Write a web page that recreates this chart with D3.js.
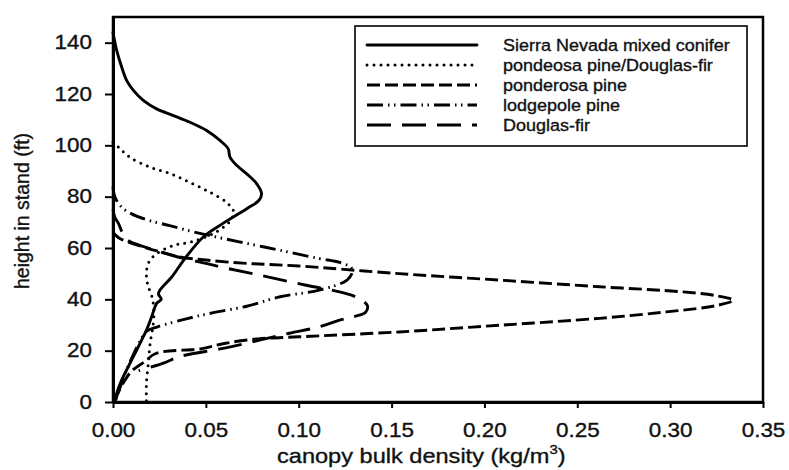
<!DOCTYPE html>
<html>
<head>
<meta charset="utf-8">
<script src="https://cdn.jsdelivr.net/npm/d3@7"></script>
<style>
  html, body { margin: 0; padding: 0; background: #fff; }
  svg { display: block; }
  text { font-family: "Liberation Sans", Arial, sans-serif; fill: #111; stroke: #111; stroke-width: 0.35px; }
</style>
</head>
<body>
<svg id="chart" width="789" height="470"></svg>
<script>
// ---- data: [canopy bulk density (kg/m3), height in stand (ft)] ----
const sierraNevada = [[0.001,0],[0.002,3.4],[0.0047,8.6],[0.0082,13.7],[0.0118,18.9],[0.0154,24.1],[0.018,28],[0.0208,33.2],[0.0235,38.4],[0.026,40],[0.0245,42],[0.0253,43.6],[0.0316,48.7],[0.0387,55.9],[0.0486,64.3],[0.059,69.5],[0.072,75.3],[0.0785,78.5],[0.080,81.2],[0.0773,85.1],[0.072,88.9],[0.0666,92.2],[0.063,95.4],[0.062,98.7],[0.0576,101.9],[0.0504,105.8],[0.0414,109],[0.0325,111.6],[0.0235,114.2],[0.0163,117.5],[0.011,121.4],[0.0074,125.2],[0.0047,130.4],[0.002,137],[0,144]];
const pondeosaDouglas = [[0,101.2],[0.003,99.3],[0.009,95.4],[0.02,91.5],[0.031,88.9],[0.041,85.7],[0.052,81.8],[0.061,77.9],[0.065,74],[0.063,70.5],[0.055,66],[0.042,62.4],[0.033,61.1],[0.023,57.5],[0.019,54],[0.018,49],[0.019,45],[0.021,41],[0.022,36],[0.0217,30.6],[0.02,22.8],[0.019,15],[0.018,7.3],[0.018,0]];
const ponderosa = [[0,66],[0.003,64],[0.008,62.4],[0.019,59.8],[0.028,58],[0.036,56.5],[0.05,55.3],[0.072,54],[0.10,53],[0.154,50],[0.208,47.5],[0.262,44.9],[0.307,42.9],[0.325,41.4],[0.334,39.7],[0.325,37.6],[0.298,35.1],[0.262,32.6],[0.208,29.9],[0.154,27.3],[0.10,25.4],[0.078,24.6],[0.06,22.8],[0.048,20.8],[0.023,18.9],[0.017,15.7],[0.01,12],[0.006,8],[0.003,4],[0.001,0]];
const lodgepole = [[0,84],[0.001,80],[0.0045,76],[0.0098,73.4],[0.019,70.8],[0.03,68.8],[0.04,66.9],[0.051,65],[0.068,62.4],[0.09,59.1],[0.111,55.9],[0.122,54.4],[0.128,52.5],[0.129,51],[0.126,47.5],[0.111,43.6],[0.09,41],[0.072,37.3],[0.054,34.8],[0.04,32.5],[0.024,29.3],[0.018,27.5],[0.014,23],[0.01,17],[0.006,10],[0.003,4],[0.001,0]];
const douglasFir = [[0,75],[0.001,72],[0.003,69.5],[0.005,66],[0.008,63],[0.019,60],[0.035,56.5],[0.05,54],[0.06,52.3],[0.079,49.4],[0.104,45.5],[0.122,42.9],[0.132,40.5],[0.137,37.5],[0.136,35],[0.13,33.3],[0.122,31.9],[0.111,29.3],[0.095,26.8],[0.08,24.3],[0.06,21],[0.0353,17.6],[0.028,15.3],[0.0138,12.2]];

const seriesNames = ["Sierra Nevada mixed conifer","pondeosa pine/Douglas-fir","ponderosa pine","lodgepole pine","Douglas-fir"];
const seriesData = [sierraNevada, pondeosaDouglas, ponderosa, lodgepole, douglasFir];
const xTicks = [0,0.05,0.10,0.15,0.20,0.25,0.30,0.35];
const yTicks = [0,20,40,60,80,100,120,140];
const xTitle = "canopy bulk density (kg/m";
const xTitleSup = "3";
const yTitle = "height in stand (ft)";

// ---- styles ----
const dashStyles = [null, "0,7", "13,5", "16,5,1.5,4.5,1.5,5", "24,11"];
const caps = ["round","round","butt","butt","butt"];

const svg = d3.select("#chart");
const x = d3.scaleLinear().domain([0, 0.35]).range([113, 763]);
const y = d3.scaleLinear().domain([0, 150]).range([402, 17]);
const SX = 1.15;

// frame
svg.append("rect")
  .attr("x", x(0)).attr("y", y(150))
  .attr("width", x(0.35) - x(0)).attr("height", y(0) - y(150))
  .attr("fill", "none").attr("stroke", "#000").attr("stroke-width", 2.5);

// axes
const xAxis = svg.append("g").attr("transform", `translate(0,${y(0)})`)
  .call(d3.axisBottom(x).tickValues(xTicks).tickFormat(d3.format(".2f")).tickSize(6).tickPadding(15).tickSizeOuter(0));
const yAxis = svg.append("g").attr("transform", `translate(${x(0)},0)`)
  .call(d3.axisLeft(y).tickValues(yTicks).tickSize(8).tickSizeOuter(0));
[xAxis, yAxis].forEach(g => {
  g.select(".domain").attr("stroke", "#000").attr("stroke-width", 3);
  g.selectAll(".tick line").attr("stroke", "#000").attr("stroke-width", 2);
  g.selectAll("text").attr("font-size", 19.5).attr("fill", "#111")
    .style("font-family", "'Liberation Sans', Arial, sans-serif");
});
xAxis.selectAll("text").attr("transform", `scale(${SX},1)`);
yAxis.selectAll("text").attr("x", -21 / SX).attr("transform", `scale(${SX},1)`);

// axis titles
const xt = svg.append("text")
  .attr("transform", `translate(277,463) scale(${SX},1)`)
  .attr("font-size", 20.5);
xt.append("tspan").text(xTitle);
xt.append("tspan").attr("font-size", 13).attr("dy", -9).text(xTitleSup);
xt.append("tspan").attr("dy", 9).text(")");

svg.append("text")
  .attr("transform", "translate(29,211) rotate(-90)")
  .attr("text-anchor", "middle")
  .attr("font-size", 19.5)
  .text(yTitle);

// curves
const line = d3.line().x(d => x(d[0])).y(d => y(d[1])).curve(d3.curveCatmullRom.alpha(0.5));
svg.append("g").selectAll("path").data(seriesData).join("path")
  .attr("d", d => line(d))
  .attr("fill", "none").attr("stroke", "#000")
  .attr("stroke-width", (d, i) => i === 1 ? 3 : 2.9)
  .attr("stroke-linecap", (d, i) => caps[i])
  .attr("stroke-linejoin", "round")
  .attr("stroke-dasharray", (d, i) => dashStyles[i]);

// legend
const lg = svg.append("g");
lg.append("rect").attr("x", 355).attr("y", 26).attr("width", 392).attr("height", 120)
  .attr("fill", "#fff").attr("stroke", "#000").attr("stroke-width", 1.6);
const rows = lg.selectAll("g.row").data(seriesNames).join("g").attr("class", "row")
  .attr("transform", (d, i) => `translate(0,${45 + i * 20})`);
rows.append("line").attr("x1", 367).attr("x2", 477).attr("y1", 0).attr("y2", 0)
  .attr("stroke", "#000")
  .attr("stroke-width", (d, i) => i === 1 ? 3 : 2.9)
  .attr("stroke-linecap", (d, i) => caps[i])
  .attr("stroke-dasharray", (d, i) => dashStyles[i]);
rows.append("text")
  .attr("transform", `translate(503,6) scale(1.09,1)`)
  .attr("font-size", 16.5)
  .text(d => d);
</script>
</body>
</html>
